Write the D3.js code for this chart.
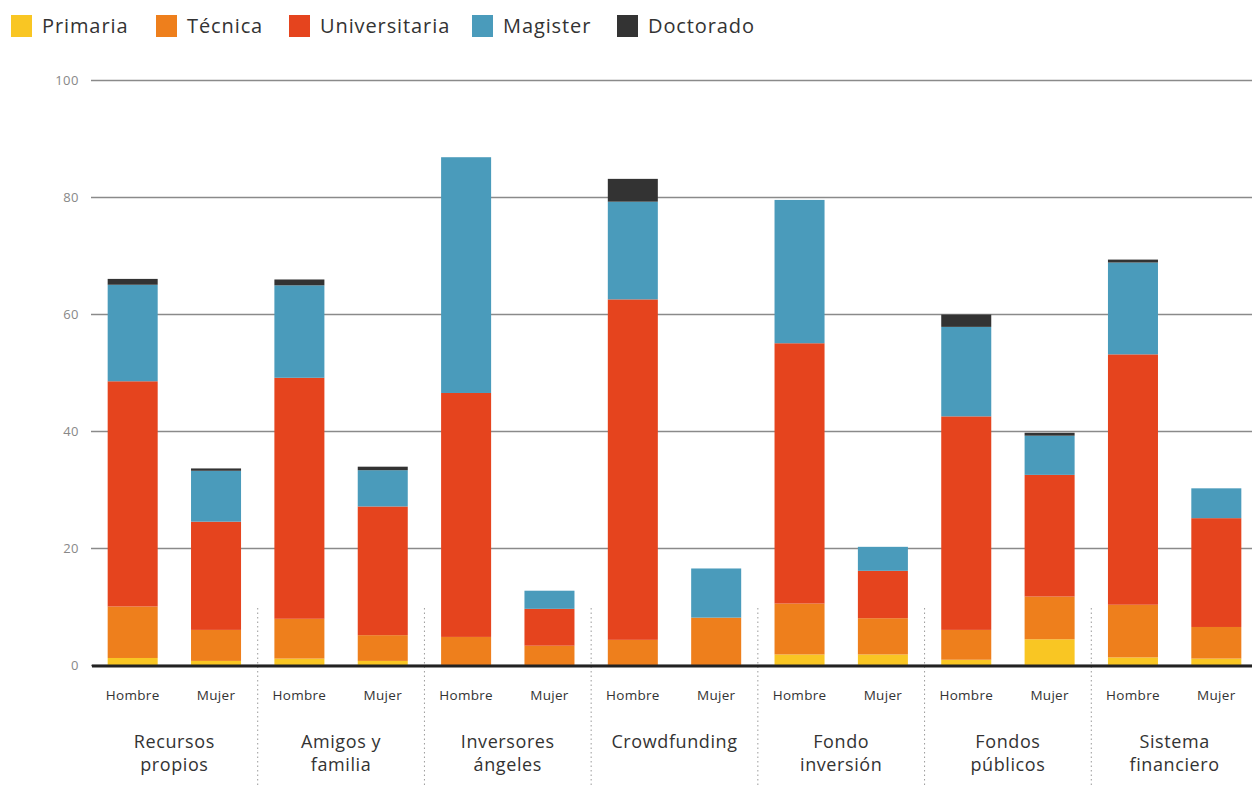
<!DOCTYPE html>
<html><head><meta charset="utf-8">
<script src="https://cdn.jsdelivr.net/npm/d3@7"></script>
<style>body{margin:0;background:#fff}svg{display:block}text{font-family:"Open Sans",Lato,sans-serif}</style>
</head><body><svg id="c" width="1252" height="788"></svg>
<script>
const categories = ["Recursos propios","Amigos y familia","Inversores ángeles","Crowdfunding","Fondo inversión","Fondos públicos","Sistema financiero"];
const categoryLines = [["Recursos","propios"],["Amigos y","familia"],["Inversores","ángeles"],["Crowdfunding"],["Fondo","inversión"],["Fondos","públicos"],["Sistema","financiero"]];
const genders = ["Hombre","Mujer"];
const levels = ["Primaria","Técnica","Universitaria","Magister","Doctorado"];
const levelColors = ["#f9c623","#ee7f1c","#e5441e","#4a9bbb","#333333"];
// values per bar in order: category x gender
const primaria =      [1.2,0.7, 1.1,0.7, 0,0,   0,0,    1.8,1.8, 0.9,4.4, 1.3,1.1];
const tecnica =       [8.8,5.3, 6.8,4.4, 4.8,3.3, 4.3,8.1, 8.7,6.2, 5.1,7.3, 9.0,5.4];
const universitaria = [38.5,18.5, 41.2,22.0, 41.7,6.3, 58.2,0, 44.5,8.1, 36.5,20.8, 42.8,18.6];
const magister =      [16.5,8.7, 15.8,6.2, 40.3,3.1, 16.7,8.4, 24.5,4.1, 15.3,6.7, 15.7,5.1];
const doctorado =     [1.0,0.4, 1.0,0.6, 0,0, 3.9,0, 0,0, 2.1,0.5, 0.5,0];
const yTicks = [0,20,40,60,80,100];

const rows = [];
categories.forEach((c,i)=>genders.forEach((g,j)=>{
  const k=i*2+j;
  rows.push({cat:c,gender:g,"Primaria":primaria[k],"Técnica":tecnica[k],"Universitaria":universitaria[k],"Magister":magister[k],"Doctorado":doctorado[k]});
}));

const svg = d3.select("#c");
const x0 = d3.scaleBand().domain(categories).range([91,1258]).padding(0);
const x1 = d3.scaleBand().domain(genders).range([0,x0.bandwidth()]).paddingInner(0.4).paddingOuter(0.2);
const y = d3.scaleLinear().domain([0,100]).range([665,80]);
const color = d3.scaleOrdinal().domain(levels).range(levelColors);

// gridlines + y labels
const yAxis = d3.axisLeft(y).tickValues(yTicks).tickSize(-(1252-91)).tickPadding(12);
const ga = svg.append("g").attr("transform","translate(91,0)").call(yAxis);
ga.select(".domain").remove();
ga.selectAll(".tick line").attr("stroke","#8a8a8a").attr("stroke-width",1.3);
ga.selectAll(".tick text").attr("fill","#888").attr("font-size",13).style("font-family","'Open Sans',sans-serif").attr("letter-spacing",0.5);

// separators
svg.append("g").selectAll("line").data(categories.slice(1)).join("line")
  .attr("x1",d=>x0(d)).attr("x2",d=>x0(d)).attr("y1",608).attr("y2",788)
  .attr("stroke","#9a9a9a").attr("stroke-width",1).attr("stroke-dasharray","1.5,3");

// stacked bars
const stack = d3.stack().keys(levels)(rows);
svg.append("g").selectAll("g").data(stack).join("g").attr("fill",d=>color(d.key))
  .selectAll("rect").data(d=>d).join("rect")
  .attr("x",d=>x0(d.data.cat)+x1(d.data.gender))
  .attr("width",x1.bandwidth())
  .attr("y",d=>y(d[1]))
  .attr("height",d=>Math.max(0,y(d[0])-y(d[1])));

// baseline
svg.append("line").attr("x1",92).attr("x2",1252).attr("y1",y(0)+1).attr("y2",y(0)+1)
  .attr("stroke","#222").attr("stroke-width",3);

// gender labels
svg.append("g").selectAll("text").data(rows).join("text")
  .attr("x",d=>x0(d.cat)+x1(d.gender)+x1.bandwidth()/2).attr("y",700)
  .attr("text-anchor","middle").attr("font-size",13.5).attr("letter-spacing",0.3).attr("fill","#333").text(d=>d.gender);

// category labels
const cl = svg.append("g").selectAll("text").data(categories).join("text")
  .attr("x",d=>x0(d)+x0.bandwidth()/2).attr("y",748)
  .attr("text-anchor","middle").attr("font-size",18).attr("letter-spacing",0.6).attr("fill","#333");
cl.selectAll("tspan").data((d,i)=>categoryLines[i]).join("tspan")
  .attr("x",function(){return d3.select(this.parentNode).attr("x");})
  .attr("dy",(d,i)=>i?23:0).text(d=>d);

// legend
const legendX = [11,156,289,472,617];
const lg = svg.append("g").selectAll("g").data(levels).join("g")
  .attr("transform",(d,i)=>`translate(${legendX[i]},15)`);
lg.append("rect").attr("width",21).attr("height",22).attr("fill",d=>color(d));
lg.append("text").attr("x",31).attr("y",18).attr("font-size",20).attr("letter-spacing",0.9).attr("fill","#333").text(d=>d);
</script></body></html>
